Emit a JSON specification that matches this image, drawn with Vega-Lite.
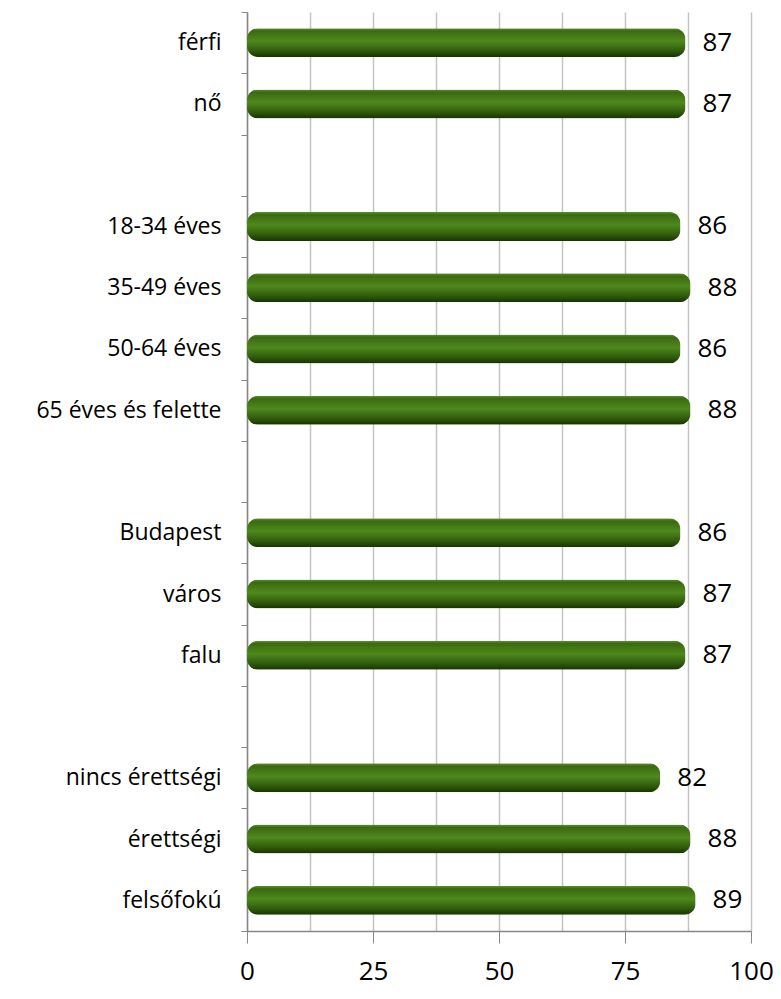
{
  "$schema": "https://vega.github.io/schema/vega-lite/v6.json",
  "width": 504,
  "height": 919,
  "autosize": "none",
  "padding": {"left": 247, "top": 12, "right": 30, "bottom": 68},
  "background": "white",
  "config": {"view": {"stroke": null}, "font": "Open Sans"},
  "data": {
    "values": [
      {"cat": "férfi", "value": 87},
      {"cat": "nő", "value": 87},
      {"cat": "18-34 éves", "value": 86},
      {"cat": "35-49 éves", "value": 88},
      {"cat": "50-64 éves", "value": 86},
      {"cat": "65 éves és felette", "value": 88},
      {"cat": "Budapest", "value": 86},
      {"cat": "város", "value": 87},
      {"cat": "falu", "value": 87},
      {"cat": "nincs érettségi", "value": 82},
      {"cat": "érettségi", "value": 88},
      {"cat": "felsőfokú", "value": 89}
    ]
  },
  "encoding": {
    "y": {
      "field": "cat",
      "type": "nominal",
      "sort": null,
      "scale": {
        "domain": ["férfi", "nő", " ", "18-34 éves", "35-49 éves", "50-64 éves", "65 éves és felette", "  ", "Budapest", "város", "falu", "   ", "nincs érettségi", "érettségi", "felsőfokú"],
        "paddingInner": 0,
        "paddingOuter": 0
      },
      "axis": {
        "title": null,
        "tickBand": "extent",
        "labelFontSize": 23,
        "labelLimit": 300,
        "labelColor": "#000000",
        "labelPadding": 20,
        "tickSize": 6,
        "tickColor": "#878787",
        "domainColor": "#878787",
        "domainWidth": 1.5
      }
    },
    "x": {
      "field": "value",
      "type": "quantitative",
      "scale": {"domain": [0, 100], "nice": false},
      "axis": {
        "title": null,
        "values": [0, 12.5, 25, 37.5, 50, 62.5, 75, 87.5, 100],
        "grid": true,
        "gridColor": "#c4c4c4",
        "gridWidth": 1.5,
        "labelExpr": "datum.value % 25 === 0 ? datum.label : ''",
        "tickOpacity": {"condition": {"test": "datum.value % 25 === 0", "value": 1}, "value": 0},
        "tickSize": 12,
        "tickColor": "#878787",
        "domainColor": "#878787",
        "domainWidth": 1.5,
        "labelFontSize": 26,
        "labelColor": "#000000",
        "labelPadding": 15,
        "labelFlush": false
      }
    }
  },
  "layer": [
    {
      "mark": {
        "type": "bar",
        "cornerRadius": 11,
        "height": {"band": 0.473},
        "color": {
          "gradient": "linear",
          "x1": 0, "y1": 0, "x2": 0, "y2": 1,
          "stops": [
            {"offset": 0, "color": "#5f8d35"},
            {"offset": 0.1, "color": "#3a6a0f"},
            {"offset": 0.45, "color": "#4f891d"},
            {"offset": 0.8, "color": "#2e590a"},
            {"offset": 1, "color": "#183203"}
          ]
        }
      }
    },
    {
      "mark": {"type": "text", "align": "left", "baseline": "middle", "dx": 17, "fontSize": 26, "color": "#000000"},
      "encoding": {"text": {"field": "value", "type": "quantitative"}}
    }
  ]
}
